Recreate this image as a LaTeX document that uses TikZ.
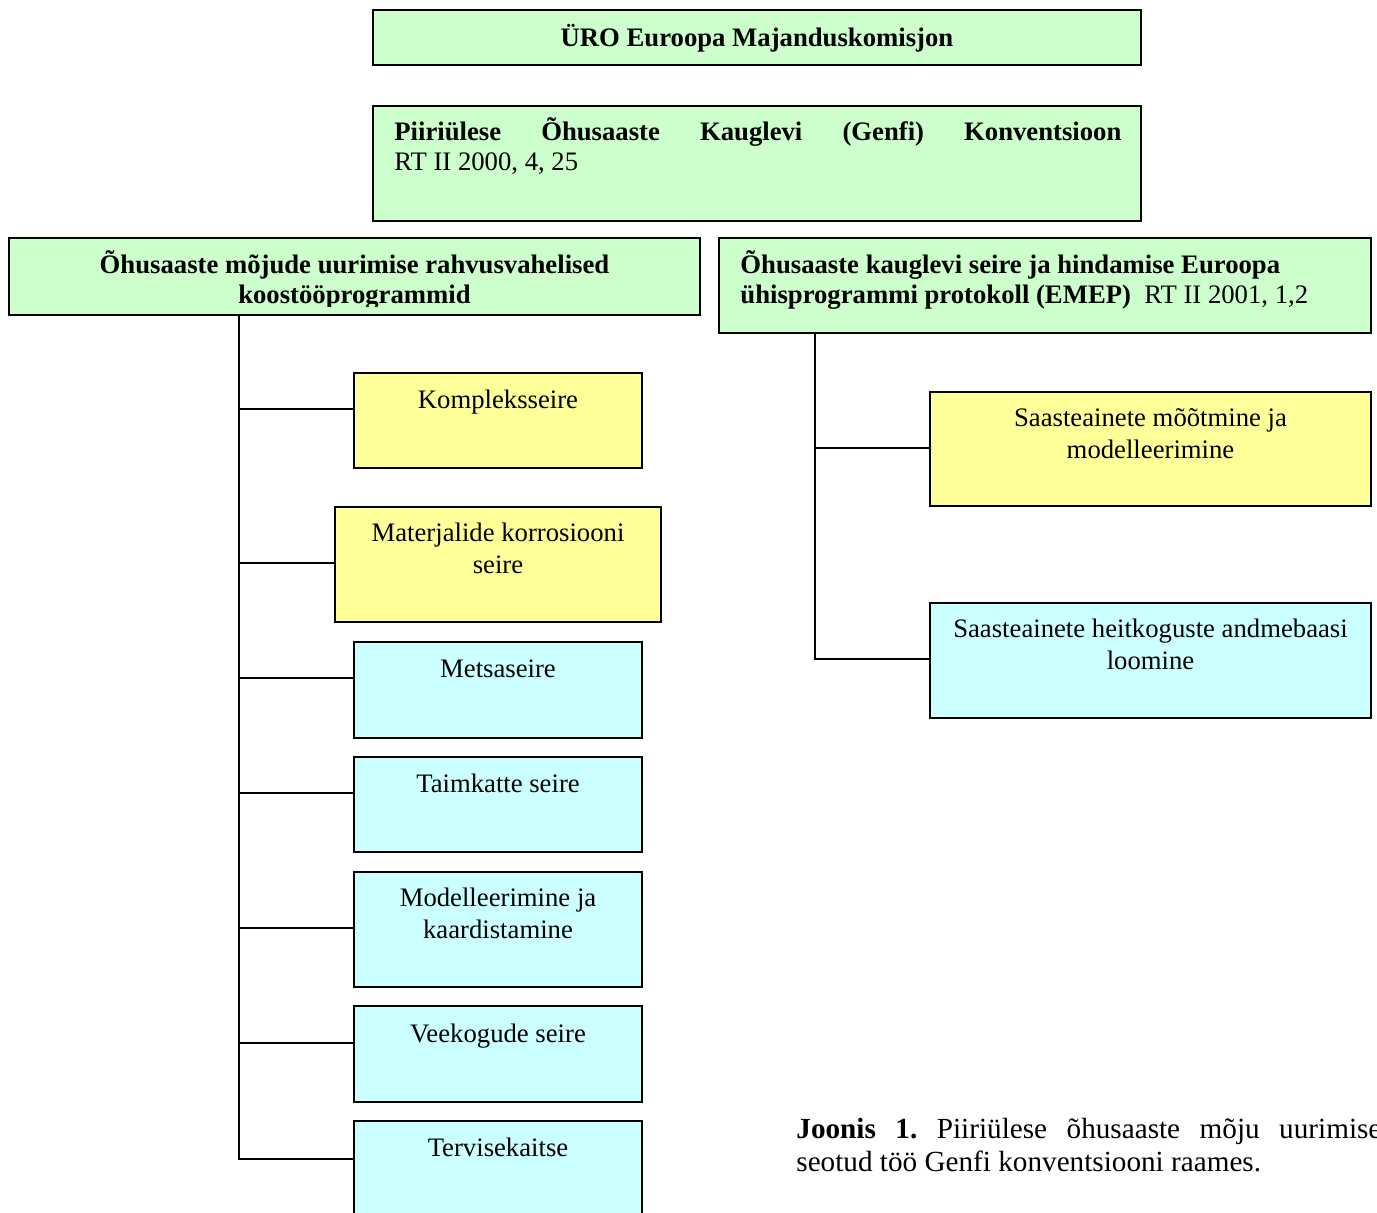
\documentclass[tikz,border=0pt]{standalone}
\usepackage{fontspec}
\setmainfont{Liberation Serif}
\usetikzlibrary{fit,calc}
\definecolor{lgreen}{HTML}{CCFFCC}
\definecolor{lyellow}{HTML}{FFFF99}
\definecolor{lcyan}{HTML}{CCFFFF}
\begin{document}
\begin{tikzpicture}[x=0.5pt,y=-0.5pt,
  box/.style={draw=black, line width=1pt, inner sep=0pt},
  gbox/.style={box, fill=lgreen},
  ybox/.style={box, fill=lyellow},
  cbox/.style={box, fill=lcyan},
  txt/.style={inner sep=0pt, anchor=base, align=center, font=\fontsize{13.35}{16}\selectfont},
  btxt/.style={inner sep=0pt, anchor=base, align=center, font=\fontsize{13.35}{15}\selectfont\bfseries},
  conn/.style={draw=black, line width=0.9pt}]
\clip (0,0) rectangle (1377,1212);
% boxes
\node[gbox, fit={(373,10) (1141,65)}] (uro) {};
\node[gbox, fit={(373,106) (1141,221)}] (conv) {};
\node[gbox, fit={(9,238) (700,315)}] (lh) {};
\node[gbox, fit={(719,238) (1371,333)}] (rh) {};
\node[ybox, fit={(354,373) (642,468)}] (k1) {};
\node[ybox, fit={(335,507) (661,622)}] (k2) {};
\node[cbox, fit={(354,642) (642,738)}] (k3) {};
\node[cbox, fit={(354,757) (642,852)}] (k4) {};
\node[cbox, fit={(354,872) (642,987)}] (k5) {};
\node[cbox, fit={(354,1006) (642,1102)}] (k6) {};
\node[cbox, fit={(354,1121) (642,1240)}] (k7) {};
\node[ybox, fit={(930,392) (1371,506)}] (r1) {};
\node[cbox, fit={(930,603) (1371,718)}] (r2) {};
% texts (base anchor = baseline of the last line)
\node[btxt] (turo) at (757,46) {ÜRO Euroopa Majanduskomisjon};
\node[btxt, anchor=base west, align=left] (tconv) at (394,170)
  {\hbox to 363.5pt{Piiriülese\hfill Õhusaaste\hfill Kauglevi\hfill (Genfi)\hfill Konventsioon}\\\mdseries RT II 2000, 4, 25};
\begin{scope}
\clip (9,238) rectangle (700,306);
\node[btxt] (tlh) at (354.5,303) {Õhusaaste mõjude uurimise rahvusvahelised\\koostööprogrammid};
\end{scope}
\node[btxt, anchor=base west, align=left] (trh) at (740,303)
  {Õhusaaste kauglevi seire ja hindamise Euroopa\\ühisprogrammi protokoll (EMEP)\ \ \mdseries RT II 2001, 1,2};
\node[txt] (tk1) at (498,408) {Kompleksseire};
\node[txt] (tk2) at (498,573) {Materjalide korrosiooni\\seire};
\node[txt] (tk3) at (498,677) {Metsaseire};
\node[txt] (tk4) at (498,792) {Taimkatte seire};
\node[txt] (tk5) at (498,938) {Modelleerimine ja\\kaardistamine};
\node[txt] (tk6) at (498,1042) {Veekogude seire};
\node[txt] (tk7) at (498,1156) {Tervisekaitse};
\node[txt] (tr1) at (1150.5,458) {Saasteainete mõõtmine ja\\modelleerimine};
\node[txt] (tr2) at (1150.5,669) {Saasteainete heitkoguste andmebaasi\\loomine};
\node[txt, anchor=base west, align=left, font=\fontsize{14.6}{16.5}\selectfont] (cap) at (796,1171)
  {\hbox to 292.5pt{\bfseries Joonis\hfill 1.\hfill\mdseries Piiriülese\hfill õhusaaste\hfill mõju\hfill uurimise}\\seotud töö Genfi konventsiooni raames.};
% connectors
\coordinate (lt) at (lh.south -| 239,0);
\coordinate (rt) at (rh.south -| 815,0);
\coordinate (a1) at ($(k1.north west)+(0,37)$);
\coordinate (a2) at ($(k2.north west)+(0,57)$);
\coordinate (a3) at ($(k3.north west)+(0,37)$);
\coordinate (a4) at ($(k4.north west)+(0,37)$);
\coordinate (a5) at ($(k5.north west)+(0,57)$);
\coordinate (a6) at ($(k6.north west)+(0,38)$);
\coordinate (a7) at ($(k7.north west)+(0,39)$);
\coordinate (b1) at ($(r1.north west)+(0,57)$);
\coordinate (b2) at ($(r2.north west)+(0,57)$);
\draw[conn] (lt) |- (a7);
\foreach \a in {a1,a2,a3,a4,a5,a6} \draw[conn] (lt |- \a) -- (\a);
\draw[conn] (rt) |- (b2);
\draw[conn] (rt |- b1) -- (b1);
\end{tikzpicture}
\end{document}
